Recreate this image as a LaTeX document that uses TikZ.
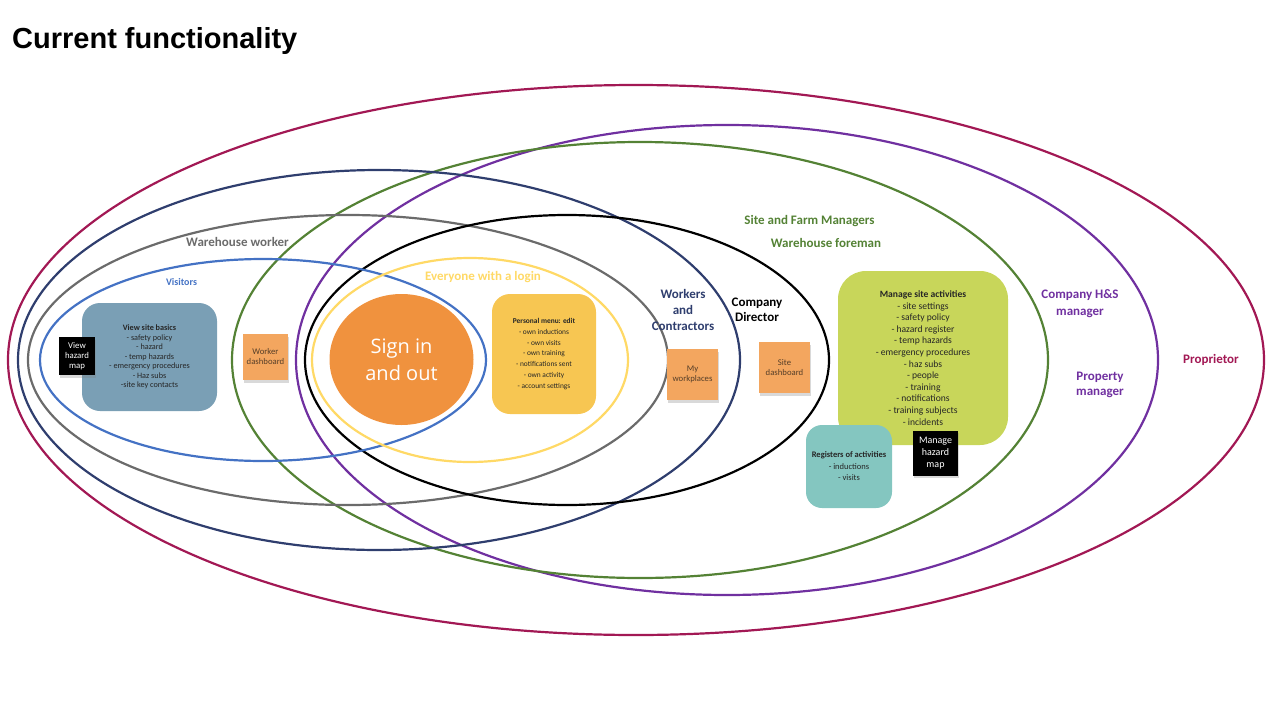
\documentclass[tikz,border=0pt]{standalone}
\usepackage{fontspec}
\setmainfont{Carlito}
\newfontfamily\titlefont{Liberation Sans}
\newfontfamily\bigfont{Open Sans}
\usetikzlibrary{shapes.geometric,shadows}

\definecolor{propr}{RGB}{162,24,84}
\definecolor{hsman}{RGB}{112,48,160}
\definecolor{farmman}{RGB}{84,130,53}
\definecolor{workers}{RGB}{47,62,110}
\definecolor{whouse}{RGB}{107,107,107}
\definecolor{visit}{RGB}{68,114,196}
\definecolor{login}{RGB}{255,217,102}
\definecolor{signin}{RGB}{240,146,62}
\definecolor{basics}{RGB}{122,159,181}
\definecolor{personal}{RGB}{247,198,82}
\definecolor{manage}{RGB}{200,214,90}
\definecolor{registers}{RGB}{132,198,192}
\definecolor{stickyfill}{RGB}{243,166,95}
\definecolor{stickytext}{RGB}{85,62,40}

\tikzset{
  ring/.style={line width=2.2pt},
  role/.style={font=\bfseries\fontsize{13}{16}\selectfont, align=center, inner sep=0pt},
  card/.style={inner sep=0pt, align=center, text=black!85},
  sticky/.style={fill=stickyfill, inner sep=0pt, align=center, text=stickytext,
    font=\fontsize{8.7}{10}\selectfont,
    drop shadow={opacity=0.3, shadow xshift=1pt, shadow yshift=-2.5pt}},
  hazbox/.style={fill=black, text=white, inner sep=0pt, align=center,
    drop shadow={opacity=0.3, shadow xshift=1pt, shadow yshift=-2.5pt}},
}

\begin{document}
\begin{tikzpicture}[x=1pt,y=-1pt]
\useasboundingbox (0,0) rectangle (1288,707);

\node[anchor=base west, inner sep=0pt, font=\titlefont\bfseries\fontsize{29}{34}\selectfont] (title) at (12,48) {Current functionality};

% the rings, outermost first
\draw[ring,propr] (636,360) ellipse [x radius=628pt, y radius=275pt];
\draw[ring,hsman] (727,360) ellipse [x radius=431pt, y radius=235pt];
\draw[ring,farmman] (640,360) ellipse [x radius=408pt, y radius=218pt];
\draw[ring,workers] (379,360) ellipse [x radius=361pt, y radius=190pt];
\draw[ring,whouse] (348,360) ellipse [x radius=320pt, y radius=145pt];
\draw[ring,black] (567,360) ellipse [x radius=262pt, y radius=145pt];
\draw[ring,visit] (263,360) ellipse [x radius=223pt, y radius=101pt];
\draw[ring,login] (470,360) ellipse [x radius=158pt, y radius=102pt];

% who is in which ring
\node[role,text=whouse] (whworker) at (237.5,242) {Warehouse worker};
\node[role,text=visit,font=\bfseries\fontsize{10}{12}\selectfont] (visitors) at (181.5,282) {Visitors};
\node[role,text=login] (everyone) at (483,277.5) {Everyone with a login};
\node[role,text=workers] (contractors) at (683,310) {Workers\\and\\Contractors};
\node[role,text=black,font=\bfseries\fontsize{13}{15}\selectfont] (director) at (757,309.5) {Company\\Director};
\node[role,text=farmman] (farm) at (809.5,221) {Site and Farm Managers};
\node[role,text=farmman] (foreman) at (826,243) {Warehouse foreman};
\node[role,text=hsman,font=\bfseries\fontsize{13}{17}\selectfont] (hsmanager) at (1080,303.5) {Company H\&S\\manager};
\node[role,text=hsman,font=\bfseries\fontsize{13}{15}\selectfont] (property) at (1100,384.5) {Property\\manager};
\node[role,text=propr] (proprietor) at (1211,360) {Proprietor};

% functions
\node[ellipse, fill=signin, inner sep=0pt, minimum width=144pt, minimum height=131pt,
  text=white, align=center, font=\bigfont\fontsize{20}{27}\selectfont] (signin) at (401.5,359.5) {Sign in\\and out};

\node[card, fill=basics, rounded corners=18pt, minimum width=135pt, minimum height=108pt,
  font=\fontsize{8.2}{9.5}\selectfont] (sitebasics) at (149.5,357)
  {\textbf{View site basics}\\- safety policy\\- hazard\\- temp hazards\\- emergency procedures\\- Haz subs\\-site key contacts};
\node[hazbox, minimum width=36pt, minimum height=38pt, font=\fontsize{8.8}{10.3}\selectfont] (viewmap) at (77,356) {View\\hazard\\map};

\node[sticky, minimum width=45pt, minimum height=46pt] (workerdash) at (265.5,357) {Worker\\dashboard};

\node[card, fill=personal, rounded corners=18pt, minimum width=104pt, minimum height=120pt,
  font=\fontsize{7.4}{10.7}\selectfont] (personalmenu) at (544,354)
  {\textbf{Personal menu: edit}\\- own inductions\\- own visits\\- own training\\- notifications sent\\- own activity\\- account settings};

\node[sticky, minimum width=51pt, minimum height=51pt] (workplaces) at (692.5,374.5) {My\\workplaces};
\node[sticky, minimum width=51pt, minimum height=51pt] (sitedash) at (784.5,367.5) {Site\\dashboard};

\node[card, fill=manage, rounded corners=28pt, minimum width=170pt, minimum height=174pt,
  font=\fontsize{9.6}{11.6}\selectfont] (managesite) at (923,358)
  {\textbf{Manage site activities}\\- site settings\\- safety policy\\- hazard register\\- temp hazards\\- emergency procedures\\- haz subs\\- people\\- training\\- notifications\\- training subjects\\- incidents};

\node[card, fill=registers, rounded corners=16pt, minimum width=86pt, minimum height=83pt,
  font=\fontsize{8.5}{11.5}\selectfont] (registers) at (849,466.5)
  {\textbf{Registers of activities}\\- inductions\\- visits};

\node[hazbox, minimum width=45pt, minimum height=45pt, font=\fontsize{10}{12.3}\selectfont] (managemap) at (935.5,453) {Manage\\hazard\\map};
\end{tikzpicture}
\end{document}
